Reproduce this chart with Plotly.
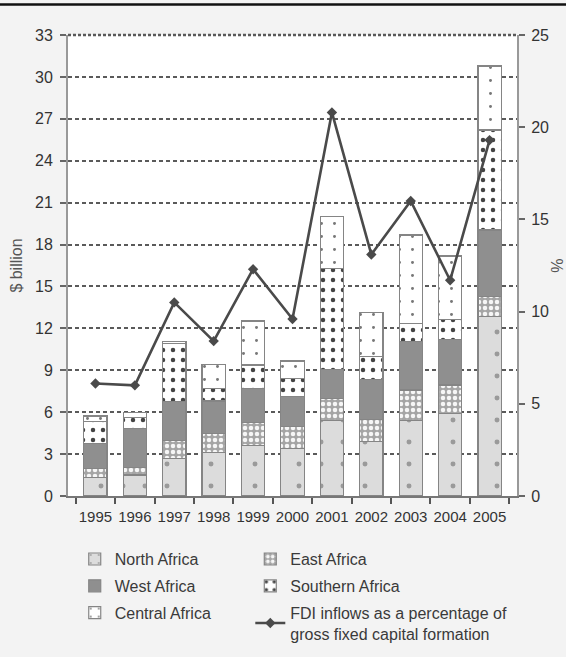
import plotly.graph_objects as go

years = ["1995", "1996", "1997", "1998", "1999", "2000", "2001", "2002", "2003", "2004", "2005"]

# $ billion per region (stacked from bottom)
north_africa = [1.31, 1.50, 2.70, 3.10, 3.60, 3.41, 5.39, 3.89, 5.39, 5.92, 12.84]
east_africa = [0.67, 0.55, 1.30, 1.39, 1.67, 1.55, 1.60, 1.60, 2.20, 2.03, 1.43]
west_africa = [1.79, 2.79, 2.75, 2.31, 2.44, 2.15, 2.08, 2.86, 3.46, 3.27, 4.77]
southern_africa = [1.55, 0.80, 4.18, 0.91, 1.67, 1.31, 7.23, 1.62, 1.31, 1.43, 7.16]
central_africa = [0.41, 0.35, 0.12, 1.72, 3.15, 1.24, 3.69, 3.18, 6.32, 4.53, 4.58]

# FDI inflows as a percentage of gross fixed capital formation
fdi_pct = [6.1, 6.0, 10.5, 8.4, 12.3, 9.6, 20.8, 13.1, 16.0, 11.7, 19.3]

FONT = "Liberation Sans Narrow, Liberation Sans, Arial, sans-serif"
OUTLINE = "#858585"

fig = go.Figure()

def add_bar(name, vals, legend, bg, fg, shape, size, solidity, fgop=1):
    fig.add_trace(go.Bar(
        x=years, y=vals, name=name, legend=legend, legendgroup=name,
        marker=dict(
            color=bg,
            line=dict(color=OUTLINE, width=1.2),
            pattern=dict(shape=shape, bgcolor=bg, fgcolor=fg, size=size,
                         solidity=solidity, fillmode="overlay", fgopacity=fgop),
        ),
        yaxis="y",
    ))

add_bar("North Africa", north_africa, "legend", "#dcdcdc", "#9a9a9a", ".", 22, 0.04)
add_bar("East Africa", east_africa, "legend2", "#a5a5a5", "#f6f6f6", ".", 6, 0.45)
add_bar("West Africa", west_africa, "legend", "#8f8f8f", "#8f8f8f", "", 8, 0.2)
add_bar("Southern Africa", southern_africa, "legend2", "#ffffff", "#444444", ".", 10, 0.16)
add_bar("Central Africa", central_africa, "legend", "#ffffff", "#777777", ".", 13, 0.04)

fig.add_trace(go.Scatter(
    x=years, y=fdi_pct,
    name="FDI inflows as a percentage of<br>gross fixed capital formation",
    legend="legend2", legendgroup="fdi",
    mode="lines+markers",
    line=dict(color="#4a4a4a", width=2.6),
    marker=dict(symbol="diamond", size=8, color="#4a4a4a"),
    yaxis="y2",
))

fig.update_layout(
    width=566, height=657,
    margin=dict(l=68, r=49, t=35, b=161, autoexpand=False),
    paper_bgcolor="#f3f3f3",
    plot_bgcolor="#ffffff",
    barmode="stack",
    bargap=0.41,
    font=dict(family=FONT, size=16, color="#333333"),
    xaxis=dict(
        type="category", tickson="boundaries", ticks="outside", ticklen=6,
        tickcolor="#555", tickwidth=1.5, tickangle=0, ticklabelstandoff=6,
        showline=True, linecolor="#777", linewidth=2,
        showgrid=False, tickfont=dict(size=15),
    ),
    yaxis=dict(
        range=[0, 33], dtick=3, tick0=0,
        ticks="outside", ticklen=6, tickcolor="#666", tickwidth=1.5,
        showline=True, linecolor="#999", linewidth=2, ticklabelstandoff=4,
        showgrid=True, gridcolor="#5a5a5a", gridwidth=1.6, griddash="4px,3px",
        zeroline=False, tickfont=dict(size=16),
        title=dict(text="$ billion", font=dict(size=16, color="#555"), standoff=8),
    ),
    yaxis2=dict(
        range=[0, 25], dtick=5, tick0=0, overlaying="y", side="right",
        ticks="outside", ticklen=6, tickcolor="#666", tickwidth=1.5,
        showline=True, linecolor="#999", linewidth=2, ticklabelstandoff=3,
        showgrid=False, zeroline=False, tickfont=dict(size=16),
        title=dict(text="%", font=dict(size=16, color="#555"), standoff=14),
    ),
    legend=dict(
        x=0.015, y=-0.1, xanchor="left", yanchor="top",
        orientation="v", bgcolor="rgba(0,0,0,0)",
        font=dict(size=16, color="#3a3a3a"), tracegroupgap=3,
        itemwidth=30,
    ),
    legend2=dict(
        x=0.406, y=-0.1, xanchor="left", yanchor="top",
        orientation="v", bgcolor="rgba(0,0,0,0)",
        font=dict(size=16, color="#3a3a3a"), tracegroupgap=3,
        itemwidth=30,
    ),
    shapes=[
        dict(type="line", xref="paper", yref="paper",
             x0=-0.2, x1=1.2, y0=1.066, y1=1.066,
             line=dict(color="#111", width=2.5)),
        dict(type="line", xref="paper", yref="paper",
             x0=0, x1=1, y0=1, y1=1,
             line=dict(color="#5a5a5a", width=2.5, dash="3px,2px")),
    ],
)

fig.write_html("out.html")
